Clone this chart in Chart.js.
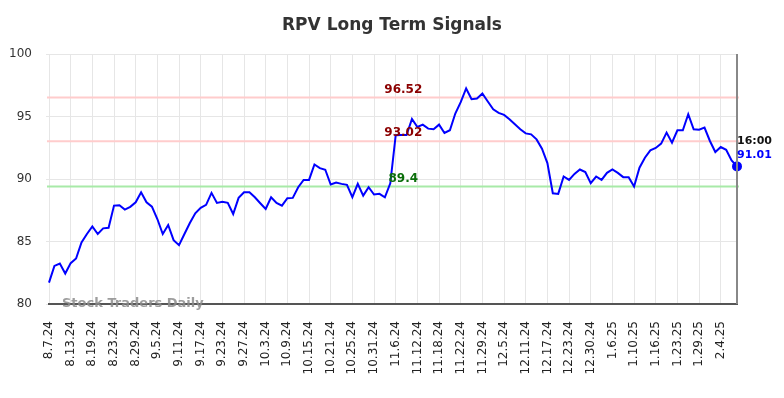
<!DOCTYPE html>
<html>
<head>
<meta charset="utf-8">
<script src="https://cdn.jsdelivr.net/npm/chart.js@4.4.1/dist/chart.umd.min.js"></script>
<style>
  body { margin: 0; background: #fff; }
  #wrap { width: 784px; height: 398px; position: relative; }
</style>
</head>
<body>
<div id="wrap"><canvas id="myChart"></canvas></div>
<script>
// datos
const dates = [
  '8.7.24','8.8.24','8.9.24','8.12.24','8.13.24','8.14.24','8.15.24','8.16.24','8.19.24',
  '8.20.24','8.21.24','8.22.24','8.23.24','8.26.24','8.27.24','8.28.24','8.29.24',
  '8.30.24','9.3.24','9.4.24','9.5.24','9.6.24','9.9.24','9.10.24','9.11.24',
  '9.12.24','9.13.24','9.16.24','9.17.24','9.18.24','9.19.24','9.20.24','9.23.24',
  '9.24.24','9.25.24','9.26.24','9.27.24','9.30.24','10.1.24','10.2.24','10.3.24',
  '10.4.24','10.7.24','10.8.24','10.9.24','10.10.24','10.11.24','10.14.24','10.15.24',
  '10.16.24','10.17.24','10.18.24','10.21.24','10.22.24','10.23.24','10.24.24','10.25.24',
  '10.28.24','10.29.24','10.30.24','10.31.24','11.1.24','11.4.24','11.5.24','11.6.24',
  '11.7.24','11.8.24','11.11.24','11.12.24','11.13.24','11.14.24','11.15.24','11.18.24',
  '11.19.24','11.20.24','11.21.24','11.22.24','11.25.24','11.26.24','11.27.24','11.29.24',
  '12.2.24','12.3.24','12.4.24','12.5.24','12.6.24','12.9.24','12.10.24','12.11.24',
  '12.12.24','12.13.24','12.16.24','12.17.24','12.18.24','12.19.24','12.20.24','12.23.24',
  '12.24.24','12.26.24','12.27.24','12.30.24','12.31.24','1.2.25','1.3.25','1.6.25',
  '1.7.25','1.8.25','1.9.25','1.10.25','1.13.25','1.14.25','1.15.25','1.16.25',
  '1.17.25','1.21.25','1.22.25','1.23.25','1.24.25','1.27.25','1.28.25','1.29.25',
  '1.30.25','1.31.25','2.3.25','2.4.25','2.5.25','2.6.25','2.7.25'
];

const prices = [
  81.71, 83.05, 83.24, 82.44, 83.27, 83.64, 84.92, 85.6, 86.21,
  85.6, 86.05, 86.1, 87.87, 87.9, 87.55, 87.77, 88.14,
  88.94, 88.14, 87.79, 86.8, 85.6, 86.32, 85.11, 84.71,
  85.6, 86.48, 87.26, 87.69, 87.93, 88.89, 88.09, 88.17,
  88.09, 87.2, 88.49, 88.94, 88.94, 88.54, 88.06, 87.6,
  88.54, 88.09, 87.87, 88.46, 88.49, 89.34, 89.93, 89.93,
  91.16, 90.87, 90.74, 89.56, 89.72, 89.61, 89.53, 88.54,
  89.61, 88.67, 89.34, 88.76, 88.81, 88.54, 89.65, 93.5,
  93.52, 93.52, 94.8, 94.16, 94.35, 94.03, 93.98, 94.35,
  93.68, 93.9, 95.24, 96.15, 97.24, 96.39, 96.44, 96.84,
  96.2, 95.57, 95.29, 95.13, 94.78, 94.38, 93.98, 93.65,
  93.57, 93.17, 92.42, 91.27, 88.86, 88.81, 90.2, 89.93,
  90.41, 90.76, 90.55, 89.67, 90.2, 89.93, 90.49, 90.76,
  90.49, 90.15, 90.15, 89.4, 90.9, 91.7, 92.29, 92.48,
  92.83, 93.71, 92.9, 93.9, 93.9, 95.18, 93.98, 93.95,
  94.11, 93.04, 92.16, 92.56, 92.34, 91.49, 91.01
];

const yTicks = [80, 85, 90, 95, 100];

// niveles de señal
const levels = [96.52, 93.02, 89.4];
const levelLabels = ['96.52', '93.02', '89.4'];
const lastTime = '16:00';

const levelStyles = [
  { line: '#ffcccc', text: '#8b0000' },
  { line: '#ffcccc', text: '#8b0000' },
  { line: '#a8eaa8', text: '#0a6e0a' }
];

Chart.defaults.font.family = '"DejaVu Sans", sans-serif';

const lastIdx = prices.length - 1;

// plugin para título, líneas de niveles y textos
const overlay = {
    id: 'overlay',
    beforeDatasetsDraw(chart) {
        const { ctx, chartArea, scales } = chart;
        ctx.save();
        levels.forEach((lv, i) => {
            const y = scales.y.getPixelForValue(lv);
            ctx.strokeStyle = levelStyles[i].line;
            ctx.lineWidth = 2;
            ctx.beginPath();
            ctx.moveTo(chartArea.left - 2, y);
            ctx.lineTo(chartArea.right + 2, y);
            ctx.stroke();
        });
        ctx.restore();
    },
    afterDatasetsDraw(chart) {
        const { ctx, chartArea, scales } = chart;
        ctx.save();
        // título
        ctx.fillStyle = '#333';
        ctx.font = 'bold 17px "DejaVu Sans"';
        ctx.textAlign = 'center';
        ctx.textBaseline = 'middle';
        ctx.fillText('RPV Long Term Signals', 392, 26);

        // etiquetas de niveles
        const lx = chartArea.left + (chartArea.right - chartArea.left) * 0.515;
        ctx.font = 'bold 12px "DejaVu Sans"';
        levels.forEach((lv, i) => {
            const y = scales.y.getPixelForValue(lv);
            ctx.fillStyle = levelStyles[i].text;
            ctx.fillText(levelLabels[i], lx, y - 8);
        });

        // línea vertical del último dato
        const xr = scales.x.getPixelForValue(lastIdx);
        ctx.strokeStyle = '#888';
        ctx.lineWidth = 2;
        ctx.beginPath();
        ctx.moveTo(xr, chartArea.top);
        ctx.lineTo(xr, chartArea.bottom);
        ctx.stroke();

        const yl = scales.y.getPixelForValue(prices[lastIdx]);
        ctx.textAlign = 'left';
        ctx.font = 'bold 11px "DejaVu Sans"';
        ctx.fillStyle = '#111';
        ctx.fillText(lastTime, xr, yl - 25);
        ctx.fillStyle = '#0000ff';
        ctx.fillText(prices[lastIdx].toFixed(2), xr, yl - 11);

        // marca de agua
        ctx.font = 'bold 13px "DejaVu Sans"';
        ctx.fillStyle = 'rgba(140,140,140,0.85)';
        ctx.fillText('Stock Traders Daily', 62, chartArea.bottom);
        ctx.restore();
    }
};

const ctx = document.getElementById('myChart').getContext('2d');

new Chart(ctx, {
    type: 'line',
    data: {
        labels: dates,
        datasets: [{
            data: prices,
            borderColor: '#0000ff',
            backgroundColor: '#0000ff',
            borderWidth: 2,
            tension: 0,
            pointRadius: c => c.dataIndex === lastIdx ? 4 : 0,
            pointHoverRadius: 0
        }]
    },
    options: {
        responsive: true,
        maintainAspectRatio: false,
        animation: false,
        layout: { padding: { top: 54, right: 47, left: 0, bottom: 0 } },
        plugins: {
            legend: { display: false },
            tooltip: { enabled: false }
        },
        scales: {
            x: {
                grid: {
                    color: c => c.index % 4 === 0 ? '#e6e6e6' : 'rgba(0,0,0,0)',
                    drawTicks: false
                },
                border: { color: '#555', width: 2 },
                ticks: {
                    autoSkip: false,
                    minRotation: 90,
                    maxRotation: 90,
                    padding: 17,
                    color: '#222',
                    font: { size: 12 },
                    callback: (v, i) => i % 4 === 0 ? dates[i] : ''
                },
                afterFit: s => { s.height = 94; }
            },
            y: {
                min: yTicks[0],
                max: yTicks[yTicks.length - 1],
                grid: { color: '#e6e6e6', tickLength: 3 },
                border: { display: false },
                ticks: {
                    stepSize: 5,
                    padding: 14,
                    color: '#333',
                    font: { size: 12 }
                },
                afterFit: s => { s.width = 49; }
            }
        }
    },
    plugins: [overlay]
});
</script>
</body>
</html>
